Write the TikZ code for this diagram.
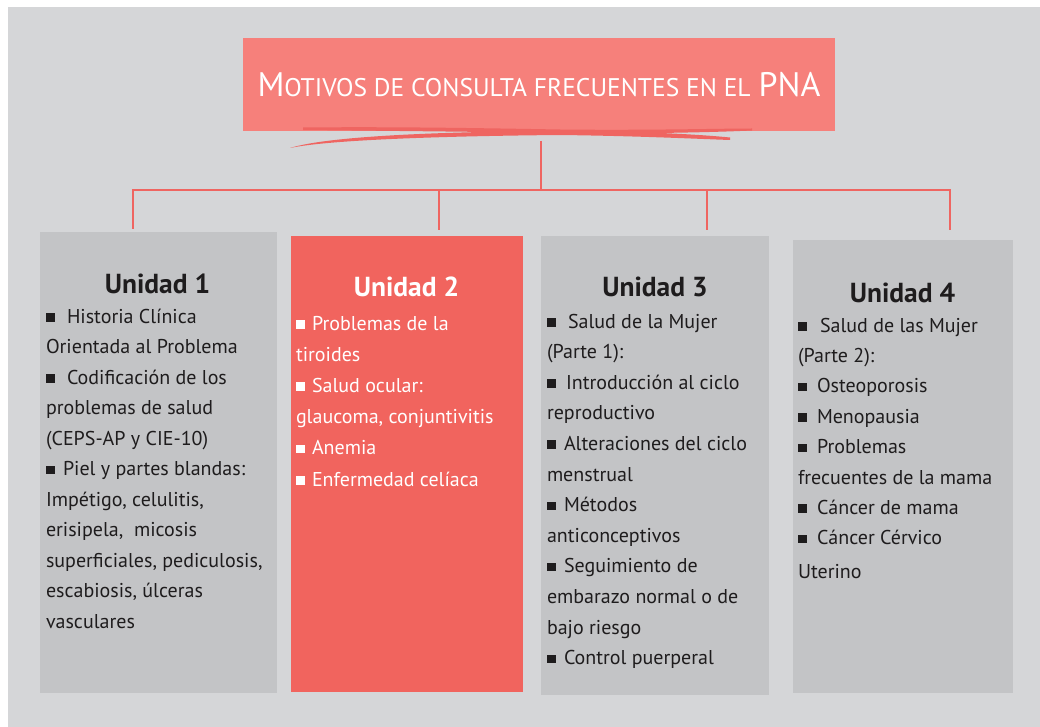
\documentclass[tikz,border=0pt]{standalone}
\usepackage{fontspec}
\setmainfont{PT Sans}
\usetikzlibrary{positioning}

\definecolor{bggray}{HTML}{D5D6D8}
\definecolor{boxgray}{HTML}{C3C4C6}
\definecolor{titlered}{HTML}{F6807B}
\definecolor{unitred}{HTML}{F1645E}
\definecolor{linered}{HTML}{EF6561}
\definecolor{inkblack}{HTML}{1E1C1D}

\newcommand{\sq}[1][8pt]{\rule[1.5pt]{9pt}{8.5pt}\hspace{#1}}
\newcommand{\titlebig}[1]{{\fontsize{34}{34}\selectfont #1}}
\newcommand{\titlesmall}[1]{{\fontsize{25.5}{26}\selectfont #1}}

\begin{document}
\begin{tikzpicture}[x=1pt, y=-1pt,
  every node/.style={inner sep=0pt, outer sep=0pt},
  unitbox/.style={anchor=north west, fill=boxgray},
  head/.style={anchor=base, font=\bfseries\fontsize{27.5}{30}\selectfont, text=inkblack},
  body/.style={anchor=north west, align=left, font=\fontsize{20}{30.5}\selectfont, text=inkblack},
  link/.style={draw=linered, line width=2.2pt}]
\useasboundingbox[fill=white] (0,0) rectangle (1040,727);
\fill[bggray] (8,7) rectangle (1040,727);

\node[fill=titlered, minimum width=592, minimum height=93, text=white] (title) at (539,84.5)
  {\titlebig{M}\titlesmall{OTIVOS DE CONSULTA FRECUENTES EN EL}\hspace{8pt}\titlebig{PNA}};

\node[unitbox, minimum width=237, minimum height=461] (u1) at (40,232) {};
\node[unitbox, fill=unitred, minimum width=232, minimum height=456] (u2) at (291,236) {};
\node[unitbox, minimum width=228, minimum height=459] (u3) at (541,236) {};
\node[unitbox, minimum width=220, minimum height=453] (u4) at (793,240) {};

\coordinate (stem) at (541,141);
\coordinate (hub) at (541,190);
\coordinate (d1) at (133,190);
\coordinate (d2) at (439,190);
\coordinate (d3) at (707,190);
\coordinate (d4) at (950,190);
\draw[link] (stem) -- (hub);
\draw[link] ([xshift=-1.1pt]d1) -- ([xshift=1.1pt]d4);
\draw[link] (d1) -- ([yshift=3]d1 |- u1.north);
\draw[link] (d2) -- ([yshift=6]d2 |- u2.north);
\draw[link] (d3) -- ([yshift=6]d3 |- u3.north);
\draw[link] (d4) -- ([yshift=10]d4 |- u4.north);

\fill[linered] (303,127.5) .. controls (400,126.5) and (500,128.5) .. (560,129.5)
  .. controls (650,130.5) and (720,128.5) .. (752,128.5) -- (752,130.5)
  .. controls (720,132) and (650,134) .. (560,133)
  .. controls (500,132) and (400,131) .. (303,130) -- cycle;
\fill[linered] (290,148) .. controls (330,135.5) and (450,131.5) .. (560,131)
  .. controls (640,131) and (700,134.5) .. (730,137.5)
  -- (730,140) .. controls (700,139) and (640,136) .. (560,135)
  .. controls (450,136) and (330,139.5) .. (290,148) -- cycle;

\node[head] (h1) at (157.5,293) {Unidad 1};
\node[head, text=white] (h2) at (406.5,296) {Unidad 2};
\node[head] (h3) at (655,296) {Unidad 3};
\node[head] (h4) at (902.5,302) {Unidad 4};

\node[body] (b1) at (46,303) {\rule{0pt}{20pt}\sq[12pt]Historia Clínica\\
  Orientada al Problema\\
  \sq[12pt]Codificación de los\\
  problemas de salud\\
  (CEPS-AP y CIE-10)\\
  \sq Piel y partes blandas:\\
  Impétigo, celulitis,\\
  erisipela,\ \ micosis\\
  superficiales, pediculosis,\\
  escabiosis, úlceras\\
  vasculares};
\node[body, text=white, font=\fontsize{20}{31.2}\selectfont] (b2) at (296,310) {\rule{0pt}{20pt}\sq[7pt]Problemas de la\\
  tiroides\\
  \sq[7pt]Salud ocular:\\
  glaucoma, conjuntivitis\\
  \sq[7pt]Anemia\\
  \sq[7pt]Enfermedad celíaca};
\node[body, font=\fontsize{20}{30.6}\selectfont] (b3) at (547,308) {\rule{0pt}{20pt}\sq[12pt]Salud de la Mujer\\
  (Parte 1):\\
  \sq[10pt]Introducción al ciclo\\
  reproductivo\\
  \sq Alteraciones del ciclo\\
  menstrual\\
  \sq Métodos\\
  anticonceptivos\\
  \sq Seguimiento de\\
  embarazo normal o de\\
  bajo riesgo\\
  \sq Control puerperal};
\node[body, font=\fontsize{20}{30.4}\selectfont] (b4) at (798,312) {\rule{0pt}{20pt}\sq[13pt]Salud de las Mujer\\
  (Parte 2):\\
  \sq[10pt]Osteoporosis\\
  \sq[10pt]Menopausia\\
  \sq[10pt]Problemas\\
  frecuentes de la mama\\
  \sq[10pt]Cáncer de mama\\
  \sq[10pt]Cáncer Cérvico\\[3pt]
  Uterino};
\end{tikzpicture}
\end{document}
